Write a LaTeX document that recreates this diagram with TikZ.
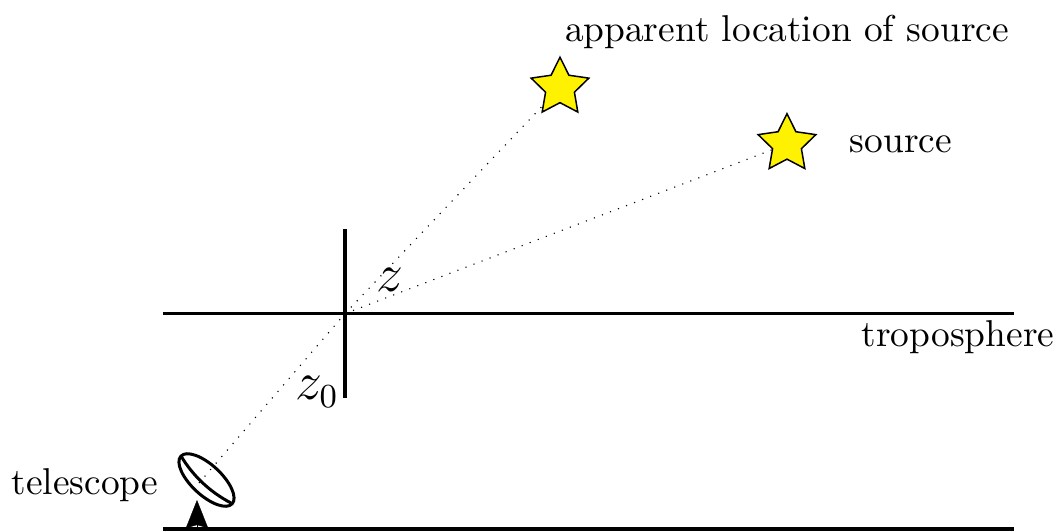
\documentclass[tikz,border=0pt]{standalone}
\usepackage{tikz}
\usetikzlibrary{arrows.meta,shapes.geometric}

\begin{document}
\begin{tikzpicture}[x=0.0094cm,y=-0.0094cm,
    starnode/.style={star,star points=5,star point ratio=2,draw=black,fill=yellow,
                     minimum size=0.57cm,inner sep=0pt},
    axisline/.style={line width=0.8pt},
    dishline/.style={line width=0.8pt},
    sightline/.style={dotted,line width=0.3pt},
    anglelabel/.style={font=\fontsize{13.5}{16}\selectfont}]
  \useasboundingbox (0,0) rectangle (1059,532);

  % ground and troposphere
  \coordinate (groundleft) at (163,529);
  \coordinate (groundright) at (1014,529);
  \coordinate (tropoleft) at (163,313.6);
  \coordinate (tropomid) at (345,313.6);
  \coordinate (tropotright) at (1014,313.6);
  \coordinate (zenithtop) at (345,229);
  \coordinate (zenithbot) at (345,398);
  \draw[line width=1.2pt] (groundleft) -- (groundright);
  \draw[axisline] (tropoleft) -- (tropotright);
  \draw[line width=1pt] (zenithtop) -- (zenithbot);

  % telescope
  \coordinate (dish) at (206.5,480);
  \coordinate (dishfocus) at (199,483);
  \draw[sightline] (dishfocus) -- (tropomid);
  \draw[dishline,rotate around={-43:(dish)}] (dish) ellipse (35 and 15);
  \draw[dishline] (181,456) .. controls (193,476) and (210,492) .. (231,503);
  \coordinate (mounttop) at (197,500);
  \coordinate (mountbot) at (197,528);
  \draw[-{Stealth[length=0.265cm,width=0.21cm,inset=0.03cm]},line width=0.1pt] (mountbot) -- (mounttop);

  % stars
  \node[starnode] (apparent) at (560,87.5) {};
  \node[starnode] (source) at (787,144) {};
  \draw[sightline] (tropomid) -- (apparent);
  \draw[sightline] (tropomid) -- (source);

  % labels
  \node (apparentlabel) at (787,32) {apparent location of source};
  \node (sourcelabel) at (901,144) {source};
  \node (tropolabel) at (958,337) {troposphere};
  \node (telescopelabel) at (85,485) {telescope};
  \node[anglelabel] (zlabel) at (390,280) {$z$};
  \node[anglelabel] (zzerolabel) at (317,392) {$z_0$};
\end{tikzpicture}
\end{document}
